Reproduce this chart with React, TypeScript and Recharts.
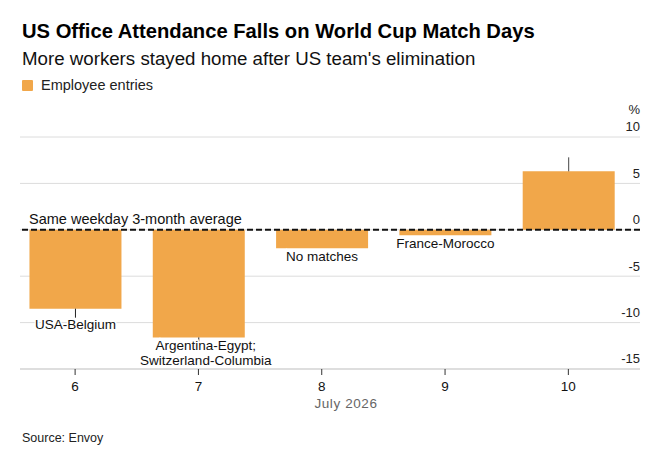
import React from "react";
import {
  BarChart,
  Bar,
  XAxis,
  YAxis,
  CartesianGrid,
  ReferenceLine,
  Rectangle,
} from "recharts";

// Days in July 2026
const days = [6, 7, 8, 9, 10];
// Employee entries vs. same weekday 3-month average, %
const entries = [-8.5, -11.6, -2.0, -0.6, 6.3];
// Matches played on each day
const matchLabels: string[][] = [
  ["USA-Belgium"],
  ["Argentina-Egypt;", "Switzerland-Columbia"],
  ["No matches"],
  ["France-Morocco"],
  [],
];
const yTicks = [-15, -10, -5, 0, 5, 10];

const data = days.map((day, i) => ({
  day,
  entries: entries[i],
  matches: matchLabels[i],
}));

const FONT = '"Liberation Sans", Arial, Helvetica, sans-serif';
const ORANGE = "#F1A74A";

const BarWithNote = (props: any) => {
  const { x, y, width, height, payload } = props;
  const top = Math.min(y, y + height);
  const bottom = Math.max(y, y + height);
  const cx = x + width / 2;
  const lines: string[] = payload.matches || [];
  const v = payload.entries;
  let note: React.ReactNode = null;
  if (v < 0 && lines.length) {
    const big = v < -5;
    const multi = lines.length > 1;
    const lead = big ? (multi ? 5 : 9) : 0;
    const startY = bottom + (big ? (multi ? 8.5 : 17) : 9);
    note = (
      <g>
        {big && (
          <line x1={cx} x2={cx} y1={bottom} y2={bottom + lead} stroke="#222" strokeWidth={1} />
        )}
        {lines.map((t, i) => (
          <text
            key={i}
            x={cx + (multi ? 7 : 0)}
            y={startY + i * 15.5}
            dominantBaseline="middle"
            textAnchor="middle"
            fontSize={13.5}
            fill="#111"
            stroke="#fff"
            strokeWidth={3}
            paintOrder="stroke"
            style={{ fontFamily: FONT }}
          >
            {t}
          </text>
        ))}
      </g>
    );
  } else if (v > 0) {
    note = <line x1={cx} x2={cx} y1={top} y2={top - 14} stroke="#444" strokeWidth={1} />;
  }
  return (
    <g>
      <Rectangle x={x} y={y} width={width} height={height} fill={ORANGE} />
      {note}
    </g>
  );
};

const YTick = (props: any) => {
  const { x, y, payload } = props;
  return (
    <g>
      <text
        x={x}
        y={y - 9}
        textAnchor="end"
        dominantBaseline="middle"
        fontSize={13}
        fill="#222"
        style={{ fontFamily: FONT }}
      >
        {payload.value}
      </text>
      {payload.value === 10 && (
        <text
          x={x}
          y={y - 26}
          textAnchor="end"
          dominantBaseline="middle"
          fontSize={13}
          fill="#222"
          style={{ fontFamily: FONT }}
        >
          %
        </text>
      )}
    </g>
  );
};

export default function App() {
  return (
    <div
      style={{
        position: "absolute",
        left: 0,
        top: 0,
        width: 664,
        height: 464,
        background: "#fff",
        fontFamily: FONT,
      }}
    >
      <div
        style={{
          position: "absolute",
          left: 22,
          top: 20,
          fontSize: 20.2,
          fontWeight: 700,
          color: "#000",
          whiteSpace: "nowrap",
        }}
      >
        US Office Attendance Falls on World Cup Match Days
      </div>
      <div
        style={{
          position: "absolute",
          left: 22,
          top: 48,
          fontSize: 18.7,
          color: "#111",
          whiteSpace: "nowrap",
        }}
      >
        More workers stayed home after US team's elimination
      </div>
      <div
        style={{
          position: "absolute",
          left: 22,
          top: 77,
          display: "flex",
          alignItems: "center",
          fontSize: 14.5,
          color: "#222",
        }}
      >
        <span
          style={{
            width: 11,
            height: 11,
            background: ORANGE,
            borderRadius: 1,
            display: "inline-block",
            marginRight: 8,
          }}
        />
        Employee entries
      </div>
      <div style={{ position: "absolute", left: 0, top: 0 }}>
        <BarChart
          width={664}
          height={464}
          data={data}
          margin={{ top: 137, right: 23, bottom: 55, left: 20 }}
        >
          <CartesianGrid vertical={false} stroke="#dcdcdc" />
          <XAxis
            dataKey="day"
            type="number"
            domain={[5.553, 10.581]}
            allowDataOverflow
            ticks={days}
            interval={0}
            height={40}
            axisLine={{ stroke: "#cfcfcf" }}
            tickLine={{ stroke: "#333" }}
            tickSize={6}
            tickMargin={6}
            tick={{ fontSize: 13.5, fill: "#111", fontFamily: FONT }}
            label={({ viewBox }: any) => (
              <text
                x={346}
                y={viewBox.y + 39}
                textAnchor="middle"
                fontSize={13.5}
                fill="#666"
                letterSpacing={0.6}
                style={{ fontFamily: FONT }}
              >
                July 2026
              </text>
            )}
          />
          <YAxis
            orientation="right"
            domain={[-15, 10]}
            ticks={yTicks}
            width={1}
            axisLine={false}
            tickLine={false}
            tickSize={0}
            tickMargin={0}
            tick={(p: any) => <YTick {...p} />}
          />
          <Bar
            dataKey="entries"
            barSize={92}
            fill={ORANGE}
            isAnimationActive={false}
            shape={(p: any) => <BarWithNote {...p} />}
          />
          <ReferenceLine
            y={0}
            stroke="#111"
            strokeWidth={2}
            strokeDasharray="6 3"
            label={{
              value: "Same weekday 3-month average",
              position: "insideTopLeft",
              offset: 0,
              dx: 9,
              dy: -16,
              fontSize: 14.5,
              fill: "#111",
              fontFamily: FONT,
            }}
          />
        </BarChart>
      </div>
      <div
        style={{
          position: "absolute",
          left: 22,
          top: 431,
          fontSize: 12.5,
          color: "#222",
        }}
      >
        Source: Envoy
      </div>
    </div>
  );
}
